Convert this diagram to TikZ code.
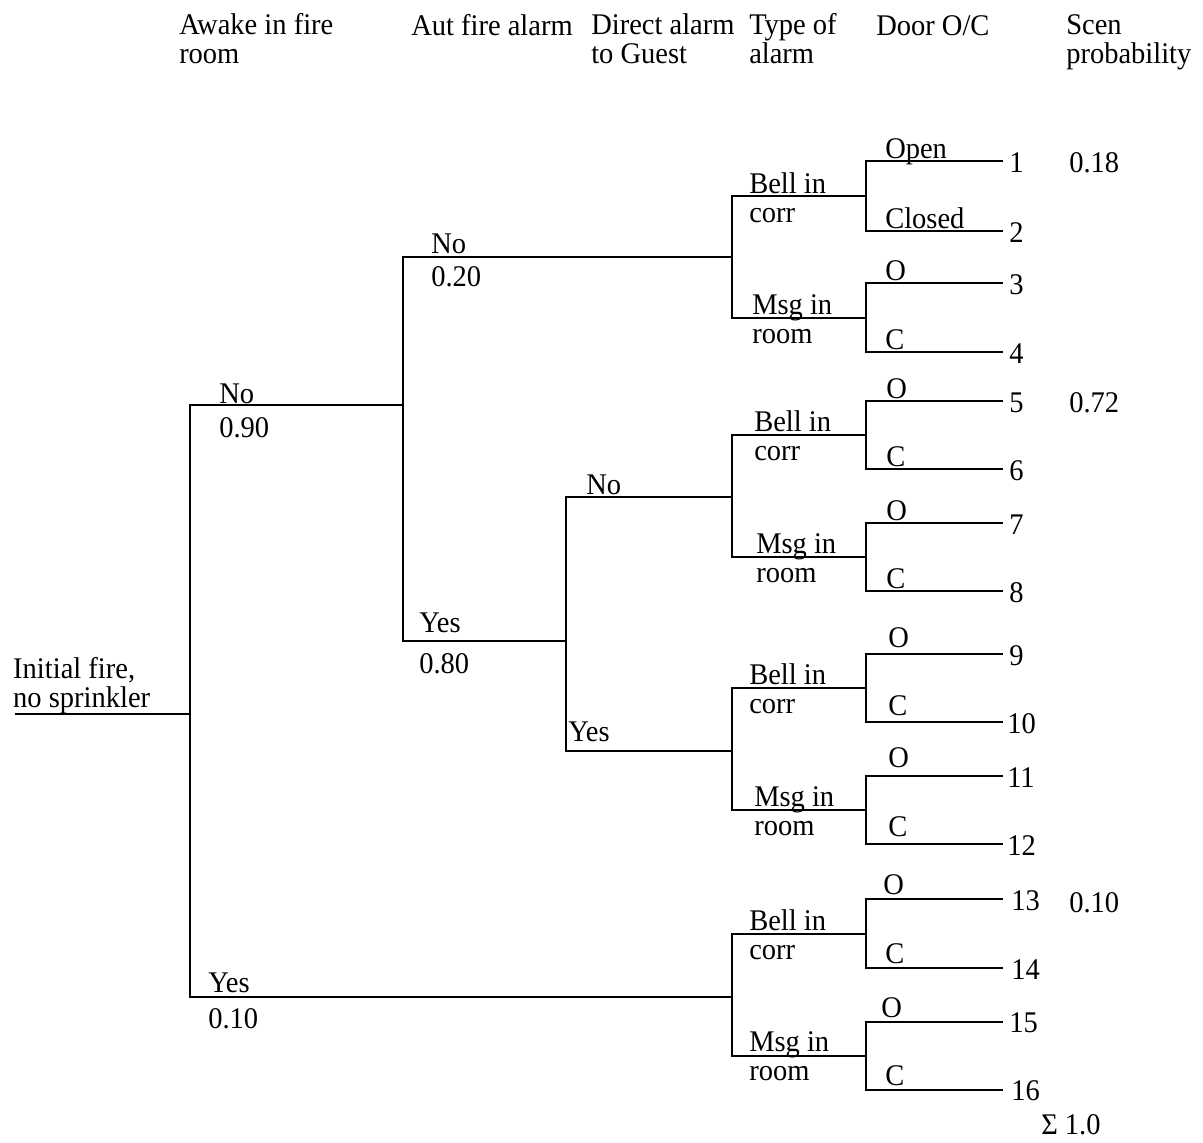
\documentclass[tikz,border=0pt]{standalone}
\usepackage{fontspec}
\setmainfont{Liberation Serif}[FakeStretch=0.95]
\usepackage{tikz}

\begin{document}
\begin{tikzpicture}[x=0.5pt, y=-0.5pt, line width=1.25pt,
  every node/.style={inner sep=0pt, anchor=base west, align=left, font=\fontsize{15}{14.5}\selectfont},
  leaf/.style={anchor=west}]
\useasboundingbox (0,0) rectangle (1203,1142);

% Column headings (two-line nodes sit on their last line)
\node (hawake) at (178,63) {Awake in fire\\room};
\node (haut) at (410,35) {Aut fire alarm};
\node (hdirect) at (590,63) {Direct alarm\\to Guest};
\node (htype) at (748,63) {Type of\\alarm};
\node (hdoor) at (875,35) {Door O/C};
\node (hscen) at (1065,63) {Scen\\probability};

% Junctions
\coordinate (start) at (15,714);
\coordinate (awake) at (190,714);
\coordinate (aut) at (403,405);
\coordinate (direct) at (566,641);
\coordinate (type1) at (732,257);
\coordinate (type2) at (732,497);
\coordinate (type3) at (732,751);
\coordinate (type4) at (732,997);
\coordinate (door1) at (866,196);
\coordinate (door2) at (866,318);
\coordinate (door3) at (866,435);
\coordinate (door4) at (866,557);
\coordinate (door5) at (866,688);
\coordinate (door6) at (866,810);
\coordinate (door7) at (866,934);
\coordinate (door8) at (866,1056);

% Leaf ends
\coordinate (l1) at (1003,161);  \coordinate (l2) at (1003,231);
\coordinate (l3) at (1003,283);  \coordinate (l4) at (1003,352);
\coordinate (l5) at (1003,401);  \coordinate (l6) at (1003,469);
\coordinate (l7) at (1003,523);  \coordinate (l8) at (1003,591);
\coordinate (l9) at (1003,654);  \coordinate (l10) at (1003,722);
\coordinate (l11) at (1003,776); \coordinate (l12) at (1003,844);
\coordinate (l13) at (1003,899); \coordinate (l14) at (1003,968);
\coordinate (l15) at (1003,1022);\coordinate (l16) at (1003,1090);

% Branches
\draw (start) -- (awake);
\draw (awake) |- (aut);
\draw (awake) |- (type4);
\draw (aut) |- (type1);
\draw (aut) |- (direct);
\draw (direct) |- (type2);
\draw (direct) |- (type3);
\draw (type1) |- (door1);  \draw (type1) |- (door2);
\draw (type2) |- (door3);  \draw (type2) |- (door4);
\draw (type3) |- (door5);  \draw (type3) |- (door6);
\draw (type4) |- (door7);  \draw (type4) |- (door8);
\draw (door1) |- (l1);  \draw (door1) |- (l2);
\draw (door2) |- (l3);  \draw (door2) |- (l4);
\draw (door3) |- (l5);  \draw (door3) |- (l6);
\draw (door4) |- (l7);  \draw (door4) |- (l8);
\draw (door5) |- (l9);  \draw (door5) |- (l10);
\draw (door6) |- (l11); \draw (door6) |- (l12);
\draw (door7) |- (l13); \draw (door7) |- (l14);
\draw (door8) |- (l15); \draw (door8) |- (l16);

% Branch labels
\node (init) at (12,707) {Initial fire,\\no sprinkler};
\node (awakeno) at (218,403) {No};   \node (pawakeno) at (218,437) {0.90};
\node (awakeyes) at (207,992) {Yes}; \node (pawakeyes) at (207,1028) {0.10};
\node (autno) at (430,253) {No};     \node (pautno) at (430,286) {0.20};
\node (autyes) at (418,632) {Yes};   \node (pautyes) at (418,673) {0.80};
\node (dirno) at (585,494) {No};
\node (diryes) at (567,741) {Yes};

% Type of alarm
\node (bell1) at (748,222) {Bell in\\corr};  \node (msg1) at (751,343) {Msg in\\room};
\node (bell2) at (753,460) {Bell in\\corr};  \node (msg2) at (755,582) {Msg in\\room};
\node (bell3) at (748,713) {Bell in\\corr};  \node (msg3) at (753,835) {Msg in\\room};
\node (bell4) at (748,959) {Bell in\\corr};  \node (msg4) at (748,1080) {Msg in\\room};

% Door open / closed
\node (o1) at (884,158) {Open}; \node (c1) at (884,228) {Closed};
\node (o2) at (884,280) {O};    \node (c2) at (884,349) {C};
\node (o3) at (885,398) {O};    \node (c3) at (885,466) {C};
\node (o4) at (885,520) {O};    \node (c4) at (885,588) {C};
\node (o5) at (887,647) {O};    \node (c5) at (887,715) {C};
\node (o6) at (887,767) {O};    \node (c6) at (887,836) {C};
\node (o7) at (882,894) {O};    \node (c7) at (884,963) {C};
\node (o8) at (880,1017) {O};   \node (c8) at (884,1085) {C};

% Scenario numbers
\node[leaf] (n1) at (1008,163) {1};    \node[leaf] (n2) at (1008,233) {2};
\node[leaf] (n3) at (1008,285) {3};    \node[leaf] (n4) at (1008,354) {4};
\node[leaf] (n5) at (1008,403) {5};    \node[leaf] (n6) at (1008,471) {6};
\node[leaf] (n7) at (1008,525) {7};    \node[leaf] (n8) at (1008,593) {8};
\node[leaf] (n9) at (1008,656) {9};    \node[leaf] (n10) at (1006,724) {10};
\node[leaf] (n11) at (1006,778) {11};  \node[leaf] (n12) at (1006,846) {12};
\node[leaf] (n13) at (1010,901) {13};  \node[leaf] (n14) at (1010,970) {14};
\node[leaf] (n15) at (1008,1023) {15}; \node[leaf] (n16) at (1010,1091) {16};

% Scenario probabilities
\node[leaf] (p1) at (1068,163) {0.18};
\node[leaf] (p5) at (1068,403) {0.72};
\node[leaf] (p13) at (1068,903) {0.10};
\node[leaf] (psum) at (1040,1125) {Σ 1.0};
\end{tikzpicture}
\end{document}
